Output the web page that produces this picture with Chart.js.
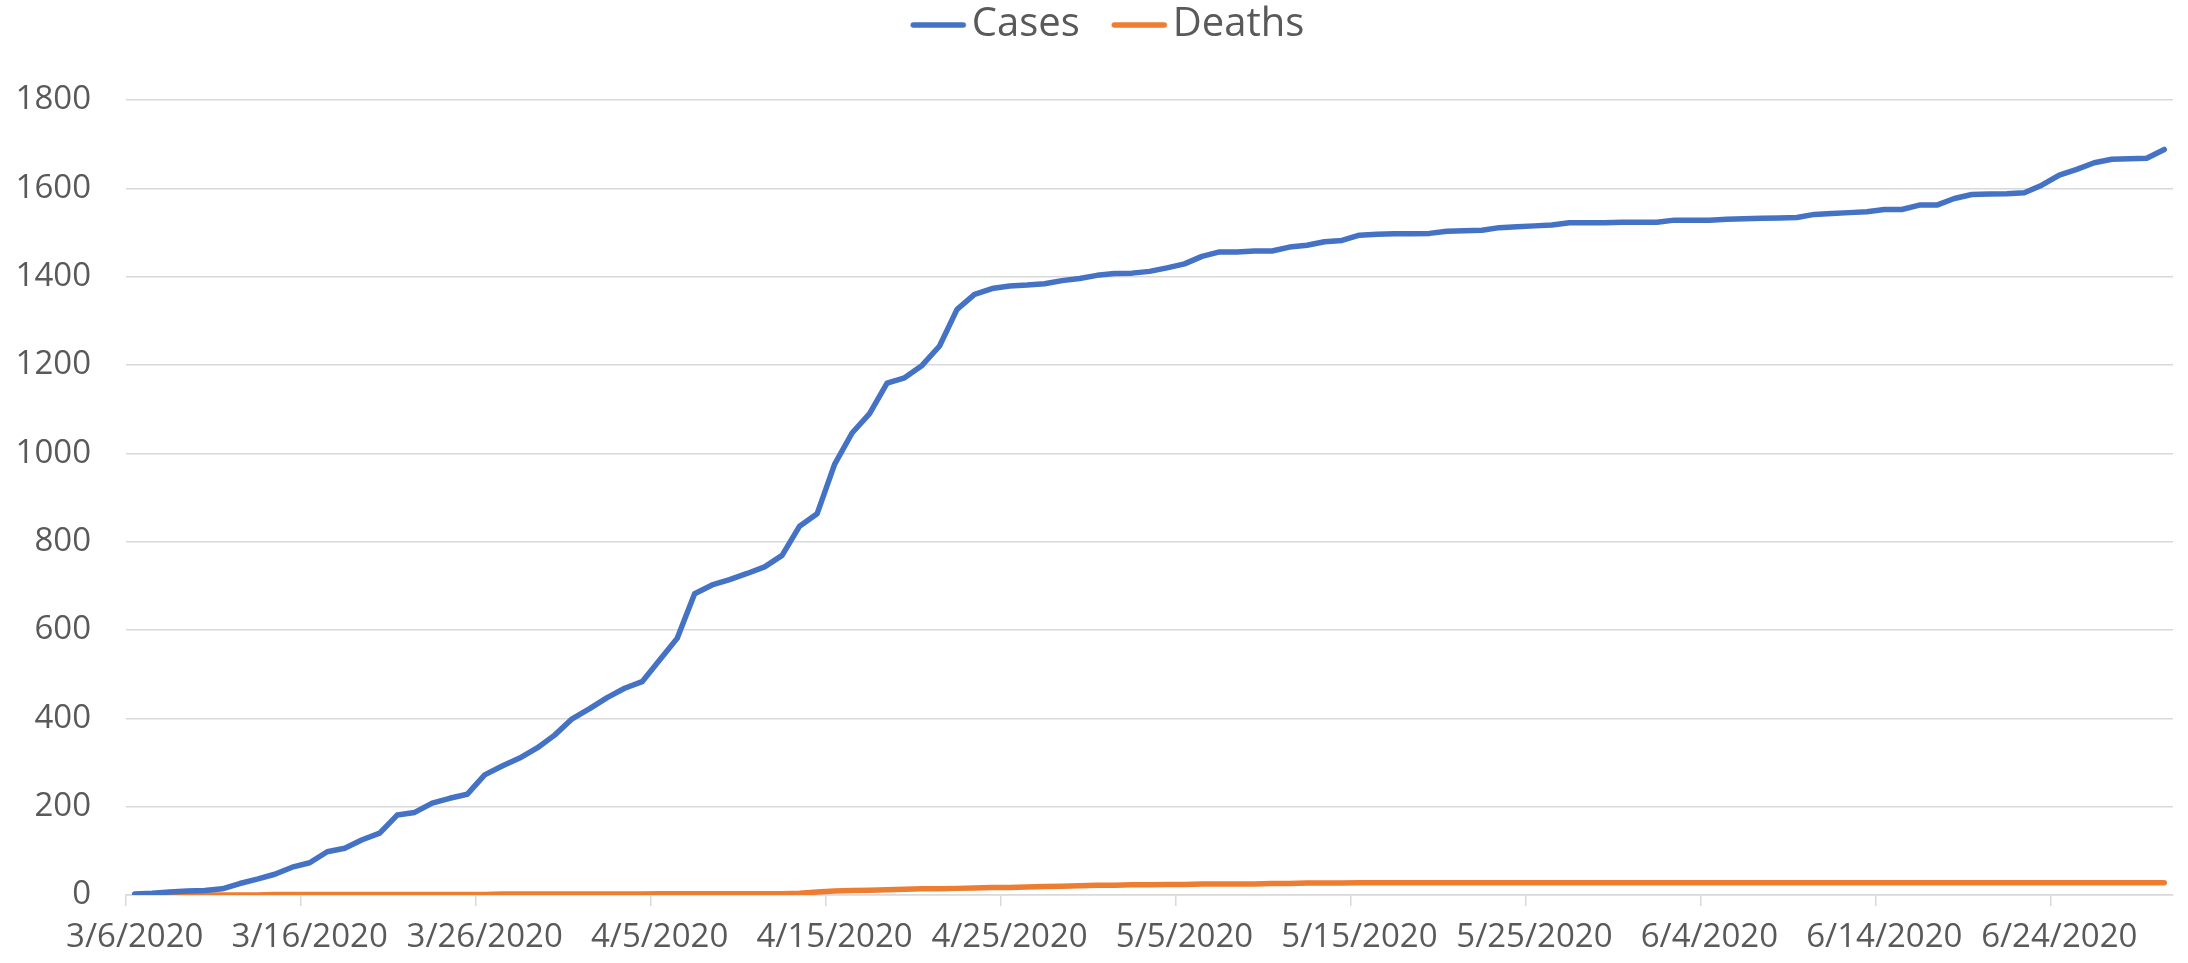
<!DOCTYPE html>
<html>
<head>
<meta charset="utf-8">
<script src="https://cdn.jsdelivr.net/npm/chart.js@4"></script>
<style>
  html, body { margin: 0; padding: 0; background: #fff; }
  #chart { display: block; }
</style>
</head>
<body>
<canvas id="chart" width="2188" height="963"></canvas>
<script>
const dates = [
  '3/6/2020', '3/7/2020', '3/8/2020', '3/9/2020', '3/10/2020', '3/11/2020', '3/12/2020', '3/13/2020', '3/14/2020', '3/15/2020',
  '3/16/2020', '3/17/2020', '3/18/2020', '3/19/2020', '3/20/2020', '3/21/2020', '3/22/2020', '3/23/2020', '3/24/2020', '3/25/2020',
  '3/26/2020', '3/27/2020', '3/28/2020', '3/29/2020', '3/30/2020', '3/31/2020', '4/1/2020', '4/2/2020', '4/3/2020', '4/4/2020',
  '4/5/2020', '4/6/2020', '4/7/2020', '4/8/2020', '4/9/2020', '4/10/2020', '4/11/2020', '4/12/2020', '4/13/2020', '4/14/2020',
  '4/15/2020', '4/16/2020', '4/17/2020', '4/18/2020', '4/19/2020', '4/20/2020', '4/21/2020', '4/22/2020', '4/23/2020', '4/24/2020',
  '4/25/2020', '4/26/2020', '4/27/2020', '4/28/2020', '4/29/2020', '4/30/2020', '5/1/2020', '5/2/2020', '5/3/2020', '5/4/2020',
  '5/5/2020', '5/6/2020', '5/7/2020', '5/8/2020', '5/9/2020', '5/10/2020', '5/11/2020', '5/12/2020', '5/13/2020', '5/14/2020',
  '5/15/2020', '5/16/2020', '5/17/2020', '5/18/2020', '5/19/2020', '5/20/2020', '5/21/2020', '5/22/2020', '5/23/2020', '5/24/2020',
  '5/25/2020', '5/26/2020', '5/27/2020', '5/28/2020', '5/29/2020', '5/30/2020', '5/31/2020', '6/1/2020', '6/2/2020', '6/3/2020',
  '6/4/2020', '6/5/2020', '6/6/2020', '6/7/2020', '6/8/2020', '6/9/2020', '6/10/2020', '6/11/2020', '6/12/2020', '6/13/2020',
  '6/14/2020', '6/15/2020', '6/16/2020', '6/17/2020', '6/18/2020', '6/19/2020', '6/20/2020', '6/21/2020', '6/22/2020', '6/23/2020',
  '6/24/2020', '6/25/2020', '6/26/2020', '6/27/2020', '6/28/2020', '6/29/2020', '6/30/2020'
];

const cases = [
  2, 4, 7, 9, 10, 14, 26, 36, 47, 63,
  73, 98, 106, 125, 140, 181, 187, 208, 219, 228,
  272, 292, 310, 333, 362, 399, 422, 447, 468, 483,
  532, 581, 682, 702, 714, 728, 743, 769, 835, 863,
  975, 1046, 1090, 1159, 1171, 1199, 1243, 1326, 1360, 1373,
  1379, 1381, 1384, 1391, 1396, 1403, 1407, 1408, 1412, 1420,
  1429, 1446, 1456, 1456, 1458, 1458, 1467, 1471, 1479, 1482,
  1494, 1496, 1497, 1497, 1498, 1503, 1504, 1505, 1511, 1513,
  1515, 1517, 1522, 1522, 1522, 1523, 1523, 1523, 1528, 1528,
  1528, 1530, 1531, 1532, 1533, 1534, 1541, 1543, 1545, 1547,
  1552, 1552, 1562, 1562, 1577, 1586, 1587, 1588, 1590, 1607,
  1630, 1643, 1658, 1666, 1667, 1668, 1688
];

const deaths = [
  0, 0, 0, 0, 0, 0, 0, 0, 1, 1,
  1, 1, 1, 1, 1, 1, 1, 1, 1, 1,
  1, 2, 2, 2, 2, 2, 2, 2, 2, 2,
  3, 3, 3, 3, 3, 3, 3, 3, 4, 7,
  9, 10, 11, 12, 13, 14, 14, 15, 16, 17,
  17, 18, 19, 20, 21, 22, 22, 23, 23, 24,
  24, 25, 25, 25, 25, 26, 26, 27, 27, 27,
  28, 28, 28, 28, 28, 28, 28, 28, 28, 28,
  28, 28, 28, 28, 28, 28, 28, 28, 28, 28,
  28, 28, 28, 28, 28, 28, 28, 28, 28, 28,
  28, 28, 28, 28, 28, 28, 28, 28, 28, 28,
  28, 28, 28, 28, 28, 28, 28
];

// only every 10th date gets a label and a tick mark
const xTickLabels = [
  '3/6/2020', '3/16/2020', '3/26/2020', '4/5/2020', '4/15/2020', '4/25/2020',
  '5/5/2020', '5/15/2020', '5/25/2020', '6/4/2020', '6/14/2020', '6/24/2020'
];

const yTicks = [0, 200, 400, 600, 800, 1000, 1200, 1400, 1600, 1800];

const FONT = "'Open Sans', 'Liberation Sans', sans-serif";
const TEXT = '#595959';
const GRID = '#d9d9d9';
const BLUE = '#4472C4';
const ORANGE = '#ED7D31';
const LINE_W = 5.5;

// legend swatch: a short round-capped line sitting close to its label
const LEGEND_BOX = 68;
function legendLine(color) {
  const c = document.createElement('canvas');
  c.width = 240;
  c.height = 10;
  const g = c.getContext('2d');
  g.strokeStyle = color;
  g.lineWidth = LINE_W;
  g.lineCap = 'round';
  g.beginPath();
  g.moveTo(115.5, 5);
  g.lineTo(165.5, 5);
  g.stroke();
  return c;
}

// extra room between the legend and the plot
const legendGap = {
  id: 'legendGap',
  beforeInit(chart) {
    const fit = chart.legend.fit;
    chart.legend.fit = function () {
      fit.bind(chart.legend)();
      this.height += 45;
    };
  },
};

const ctx = document.getElementById('chart');

new Chart(ctx, {
  type: 'line',
  data: {
    labels: dates,
    datasets: [
      {
        label: 'Cases',
        data: cases,
        borderColor: BLUE,
        backgroundColor: BLUE,
        borderWidth: LINE_W,
        borderCapStyle: 'round',
        borderJoinStyle: 'round',
        pointRadius: 0,
        pointStyle: legendLine(BLUE),
        tension: 0,
      },
      {
        label: 'Deaths',
        data: deaths,
        borderColor: ORANGE,
        backgroundColor: ORANGE,
        borderWidth: LINE_W,
        borderCapStyle: 'round',
        borderJoinStyle: 'round',
        pointRadius: 0,
        pointStyle: legendLine(ORANGE),
        tension: 0,
      },
    ],
  },
  options: {
    responsive: false,
    animation: false,
    devicePixelRatio: 1,
    layout: {
      padding: { left: 15, right: 15, top: 0, bottom: 0 },
    },
    plugins: {
      legend: {
        position: 'top',
        labels: {
          usePointStyle: true,
          pointStyleWidth: LEGEND_BOX,
          padding: 5,
          color: TEXT,
          font: { family: FONT, size: 40 },
        },
      },
      tooltip: { enabled: false },
    },
    scales: {
      x: {
        offset: true,
        afterFit: (scale) => { scale.height = 68; },
        grid: {
          offset: true,
          drawOnChartArea: false,
          tickLength: 11,
          lineWidth: 1.5,
          tickColor: (c) => (c.index % 10 === 0 ? GRID : 'rgba(0,0,0,0)'),
        },
        border: { color: GRID, width: 1.5 },
        ticks: {
          autoSkip: false,
          maxRotation: 0,
          minRotation: 0,
          padding: 12,
          color: TEXT,
          font: { family: FONT, size: 33 },
          callback: function (value, index) {
            const lbl = dates[index];
            return xTickLabels.includes(lbl) ? lbl : '';
          },
        },
      },
      y: {
        min: yTicks[0],
        max: yTicks[yTicks.length - 1],
        afterFit: (scale) => { scale.width = 111; },
        afterBuildTicks: (scale) => { scale.ticks = yTicks.map((v) => ({ value: v })); },
        grid: {
          color: GRID,
          lineWidth: 1.5,
          drawTicks: false,
        },
        border: { display: false },
        ticks: {
          padding: 35,
          color: TEXT,
          font: { family: FONT, size: 33 },
          callback: (v) => String(v),
        },
      },
    },
  },
  plugins: [legendGap],
});
</script>
</body>
</html>
